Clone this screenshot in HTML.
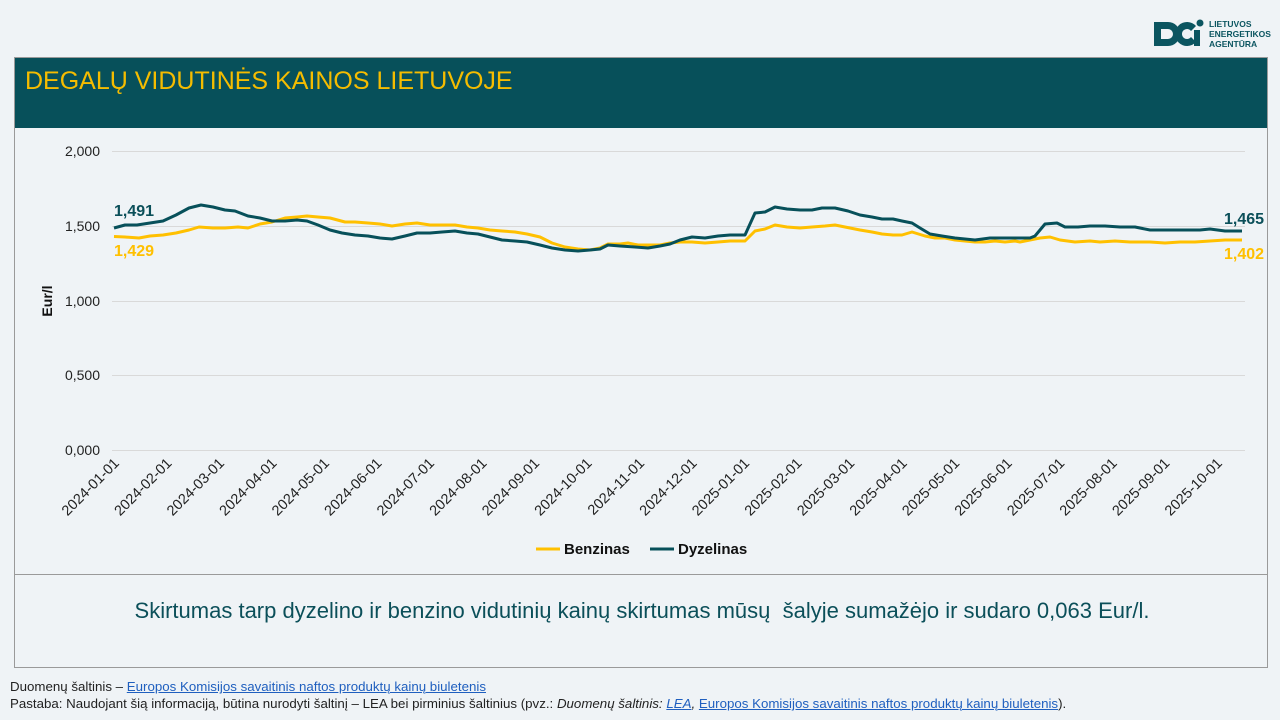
<!DOCTYPE html>
<html><head><meta charset="utf-8"><style>
body{margin:0;width:1280px;height:720px;background:#eff3f6;font-family:"Liberation Sans",sans-serif;position:relative;overflow:hidden}
.box{position:absolute;left:14px;width:1254px;border:1px solid #9a9a9a;box-sizing:border-box}
.hdr{position:absolute;left:15px;top:58px;width:1252px;height:70px;background:#07505a}
.hdr span{position:absolute;left:10px;top:9px;color:#f5bc00;font-size:25px}
.note{position:absolute;left:0;width:1284px;top:598px;text-align:center;font-size:22px;color:#0b4f59}
.ft{position:absolute;left:10px;font-size:13.3px;color:#222;white-space:nowrap}
.ft a{color:#1f5fbf;text-decoration:underline}
</style></head><body>
<div class="box" style="top:57px;height:518px"></div>
<div class="box" style="top:574px;height:94px"></div>
<div class="hdr"><span>DEGALŲ VIDUTINĖS KAINOS LIETUVOJE</span></div>
<svg style="position:absolute;left:1150px;top:18px" width="130" height="34">
<path d="M4 4 h14 a12 12 0 0 1 0 24 h-14 z M11 11 v10 h7 a5 5 0 0 0 0-10z" fill="#0b5560" fill-rule="evenodd"/>
<path d="M46 8 a12 12 0 1 0 0 16 l-5 -5 a5 5 0 1 1 0-6z" fill="#0b5560"/>
<rect x="44" y="12" width="6" height="16" fill="#0b5560"/><circle cx="50" cy="5" r="3.5" fill="#0b5560"/>
<text x="59" y="9" font-size="8.5" font-weight="bold" fill="#0b5560" font-family="Liberation Sans">LIETUVOS</text>
<text x="59" y="19" font-size="8.5" font-weight="bold" fill="#0b5560" font-family="Liberation Sans">ENERGETIKOS</text>
<text x="59" y="29" font-size="8.5" font-weight="bold" fill="#0b5560" font-family="Liberation Sans">AGENTŪRA</text>
</svg>
<svg style="position:absolute;left:0;top:0" width="1280" height="575" font-family="Liberation Sans">
<g stroke="#d9d9d9" stroke-width="1">
<line x1="112" x2="1245" y1="151.5" y2="151.5"/><line x1="112" x2="1245" y1="226.5" y2="226.5"/><line x1="112" x2="1245" y1="301.5" y2="301.5"/><line x1="112" x2="1245" y1="375.5" y2="375.5"/><line x1="112" x2="1245" y1="450.5" y2="450.5"/>
</g>
<g font-size="14" fill="#222" text-anchor="end">
<text x="100" y="156">2,000</text><text x="100" y="231">1,500</text><text x="100" y="306">1,000</text><text x="100" y="380">0,500</text><text x="100" y="455">0,000</text>
</g>
<text transform="translate(52,301) rotate(-90)" font-size="14" font-weight="bold" text-anchor="middle" fill="#111">Eur/l</text>
<g id="xl" font-size="14.5" fill="#222" text-anchor="end"></g>
<polyline fill="none" stroke="#ffc000" stroke-width="3" stroke-linejoin="round" points="114,236.5 125,237 139,238 150,236 163,235 176,233 189,230 199,227 213,228 225,228 238,227 248,228 260,224 272,222 285,218 297,217 307,216 318,217 330,218 345,222 355,222 368,223 380,224 392,226 405,224 417,223 430,225 442,225 455,225 467,227 478,228 490,230 502,231 515,232 527,234 540,237 552,243 565,247 578,249 590,250 600,248 608,244 620,244 628,243 638,245 650,245 660,245 670,243 680,242 692,242 705,243 718,242 730,241 745,241 755,231 765,229 775,225 787,227 800,228 812,227 825,226 835,225 845,227 860,230 872,232 882,234 893,235 902,235 912,232 925,236 935,238 945,238 955,240 965,241 975,242 985,242 995,241 1005,242 1015,241 1020,242 1030,240 1040,238 1050,237 1060,240 1075,242 1090,241 1100,242 1115,241 1130,242 1150,242 1165,243 1180,242 1195,242 1210,241 1225,240 1242,240"/>
<polyline fill="none" stroke="#07505a" stroke-width="3" stroke-linejoin="round" points="114,228 125,225 137,225 150,223 163,221 176,215 189,208 201,205 213,207 225,210 235,211 248,216 260,218 272,221 285,221 297,220 307,221 318,225 330,230 342,233 355,235 368,236 380,238 392,239 405,236 417,233 430,233 442,232 455,231 467,233 478,234 490,237 502,240 515,241 527,242 540,245 552,248 565,250 578,251 590,250 600,249 608,245 620,246 635,247 648,248 660,246 670,244 680,240 692,237 705,238 718,236 730,235 745,235 755,213 765,212 775,207 787,209 800,210 812,210 822,208 835,208 848,211 860,215 872,217 882,219 893,219 902,221 912,223 920,228 930,234 942,236 955,238 965,239 975,240 990,238 1005,238 1020,238 1030,238 1035,236 1045,224 1057,223 1065,227 1078,227 1090,226 1105,226 1120,227 1135,227 1150,230 1165,230 1185,230 1200,230 1210,229 1225,231 1242,231"/>
<g font-size="16" font-weight="bold">
<text x="114" y="216" fill="#0b4f59">1,491</text><text x="114" y="256" fill="#ffc000">1,429</text>
<text x="1224" y="224" fill="#0b4f59">1,465</text><text x="1224" y="259" fill="#ffc000">1,402</text>
</g>
<g font-size="15" font-weight="bold" fill="#111">
<line x1="536" x2="560" y1="549" y2="549" stroke="#ffc000" stroke-width="3"/><text x="564" y="554">Benzinas</text>
<line x1="650" x2="674" y1="549" y2="549" stroke="#07505a" stroke-width="3"/><text x="678" y="554">Dyzelinas</text>
</g>
</svg>
<div class="note">Skirtumas tarp dyzelino ir benzino vidutinių kainų skirtumas mūsų &nbsp;šalyje sumažėjo ir sudaro 0,063 Eur/l.</div>
<div class="ft" style="top:679px">Duomenų šaltinis – <a>Europos Komisijos savaitinis naftos produktų kainų biuletenis</a></div>
<div class="ft" style="top:696px">Pastaba: Naudojant šią informaciją, būtina nurodyti šaltinį – LEA bei pirminius šaltinius (pvz.: <i>Duomenų šaltinis: <a>LEA</a>,</i> <a>Europos Komisijos savaitinis naftos produktų kainų biuletenis</a>).</div>
<script>
var g=document.getElementById('xl'),s='';
for(var i=0;i<22;i++){var y=2024+Math.floor(i/12),m=(i%12)+1;var x=115+i*52.52;
s+='<text transform="translate('+(x+5)+',464) rotate(-45)">'+y+'-'+(m<10?'0':'')+m+'-01</text>';}
g.innerHTML=s;
</script>
</body></html>
